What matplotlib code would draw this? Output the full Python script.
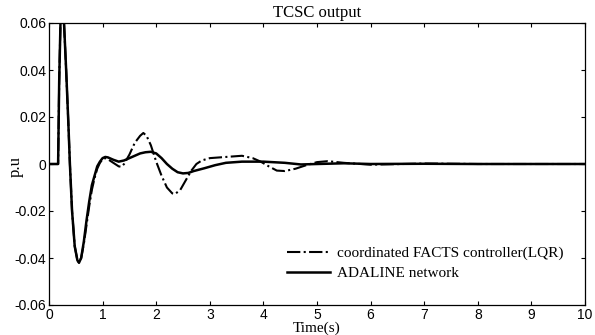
import matplotlib
matplotlib.use("Agg")
import matplotlib.pyplot as plt

# DATA
t_ada = [0, 0.17, 0.19, 0.22, 0.25, 0.28, 0.32, 0.36, 0.39, 0.43, 0.48, 0.53, 0.56,
         0.60, 0.65, 0.70, 0.75, 0.80, 0.85, 0.90, 0.95, 1.00, 1.05, 1.10, 1.20,
         1.30, 1.40, 1.50, 1.60, 1.70, 1.80, 1.90, 2.00, 2.10, 2.20, 2.30, 2.40,
         2.50, 2.60, 2.70, 2.90, 3.10, 3.30, 3.60, 4.00, 4.40, 4.70, 5.00, 5.50,
         6.00, 7.00, 8.00, 9.00, 10.0]
y_ada = [0, 0, 0.035, 0.066, 0.070, 0.060, 0.040, 0.018, 0.0, -0.020, -0.035,
         -0.041, -0.042, -0.040, -0.033, -0.024, -0.016, -0.009, -0.005, -0.001,
         0.001, 0.0025, 0.003, 0.0028, 0.0018, 0.001, 0.0015, 0.0025, 0.0035,
         0.0045, 0.005, 0.0052, 0.0045, 0.0025, 0.0, -0.002, -0.0035, -0.004,
         -0.0038, -0.003, -0.0018, -0.0005, 0.0005, 0.001, 0.001, 0.0005,
         -0.0002, 0.0, 0.0003, 0.0, 0.0001, 0.0, 0.0, 0.0]

t_lqr = [0, 0.17, 0.19, 0.22, 0.25, 0.28, 0.32, 0.36, 0.39, 0.43, 0.48, 0.53, 0.56,
         0.60, 0.65, 0.70, 0.75, 0.80, 0.85, 0.90, 0.95, 1.00, 1.05, 1.10, 1.20,
         1.30, 1.35, 1.40, 1.50, 1.60, 1.70, 1.76, 1.82, 1.90, 2.00, 2.10, 2.20,
         2.30, 2.35, 2.45, 2.55, 2.65, 2.75, 2.85, 3.00, 3.30, 3.60, 3.80, 3.95,
         4.10, 4.25, 4.40, 4.60, 4.80, 5.00, 5.20, 5.50, 6.00, 7.00, 8.00, 10.0]
y_lqr = [0, 0, 0.035, 0.066, 0.070, 0.060, 0.040, 0.018, 0.0, -0.020, -0.035,
         -0.041, -0.042, -0.040, -0.034, -0.026, -0.018, -0.011, -0.006, -0.002,
         0.0005, 0.002, 0.0025, 0.002, 0.0005, -0.001, -0.0012, 0.0, 0.004,
         0.009, 0.012, 0.0132, 0.012, 0.008, 0.001, -0.005, -0.010, -0.0125,
         -0.0128, -0.011, -0.007, -0.003, 0.0, 0.0015, 0.0025, 0.003, 0.0035,
         0.0025, 0.001, -0.001, -0.0028, -0.003, -0.002, -0.0005, 0.0008,
         0.0012, 0.0005, -0.0003, 0.0002, 0.0, 0.0]

x_ticks = list(range(0, 11))
y_ticks = [-0.06, -0.04, -0.02, 0, 0.02, 0.04, 0.06]
y_ticklabels = ["-0.06", "-0.04", "-0.02", "0", "0.02", "0.04", "0.06"]

SERIF = "Liberation Serif"
SANS = "Liberation Sans"

fig = plt.figure(figsize=(5.95, 3.35), dpi=100)
ax = fig.add_axes([49 / 595, 1 - 305 / 335, 536 / 595, 282 / 335])

ax.plot(t_lqr, y_lqr, color="black", linestyle="-.", linewidth=1.5,
        label="coordinated FACTS controller(LQR)")
ax.plot(t_ada, y_ada, color="black", linestyle="-", linewidth=1.8,
        label="ADALINE network")

ax.set_xlim(0, 10)
ax.set_ylim(-0.06, 0.06)
ax.set_xticks(x_ticks)
ax.set_yticks(y_ticks)
ax.set_yticklabels(y_ticklabels)
ax.tick_params(direction="in", top=True, right=True, length=3, width=0.8,
               labelsize=10, pad=2)
ax.tick_params(axis="x", pad=2.5)
for lab in ax.get_xticklabels() + ax.get_yticklabels():
    lab.set_family(SANS)
for sp in ax.spines.values():
    sp.set_linewidth(0.9)

ax.set_title("TCSC output", family=SERIF, fontsize=12, pad=4)
ax.set_xlabel("Time(s)", family=SERIF, fontsize=11, labelpad=-1)
ax.set_ylabel("p.u", family=SERIF, fontsize=12)
ax.yaxis.set_label_coords(-0.048, 0.49)

ax.legend(loc="lower right", bbox_to_anchor=(0.985, 0.04), frameon=False,
          prop={"family": SERIF, "size": 11}, handlelength=2.8,
          handletextpad=0.45, labelspacing=0.4)

fig.savefig("out.png", dpi=100)
